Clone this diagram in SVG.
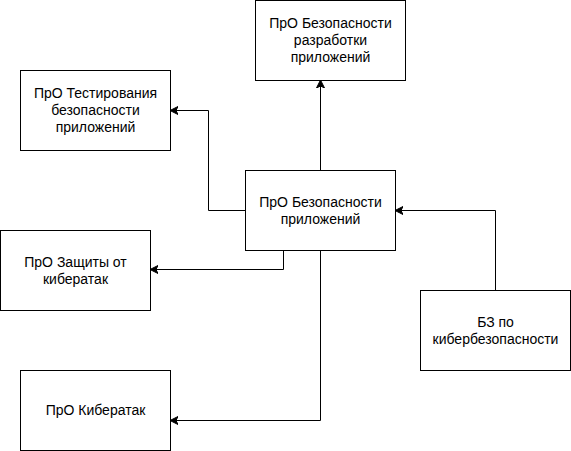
<svg xmlns="http://www.w3.org/2000/svg" width="571" height="451" viewBox="0 0 571 451">
<style>
.box{fill:#fff;stroke:#000;stroke-width:1}
.t{font-family:"Liberation Sans",Arial,sans-serif;font-size:14px;fill:#000;text-anchor:middle}
.c{fill:none;stroke:#000;stroke-width:1}
</style>
<defs>
<marker id="a" markerWidth="10" markerHeight="10" refX="7" refY="4" orient="auto" markerUnits="userSpaceOnUse" viewBox="0 0 10 8">
<path d="M0,0 L8,4 L0,8 L2,4 Z" fill="#000" stroke="#000" stroke-width="1"/>
</marker>
</defs>
<g id="connectors">
<path class="c" d="M320.5,170 V81" marker-end="url(#a)"/>
<path class="c" d="M245,210.5 H208.5 V110.5 H171" marker-end="url(#a)"/>
<path class="c" d="M283.5,250 V269.5 H151" marker-end="url(#a)"/>
<path class="c" d="M495.5,290 V210.5 H396" marker-end="url(#a)"/>
<path class="c" d="M320.5,250 V420.5 H171" marker-end="url(#a)"/>
</g>
<g id="n-dev">
<rect class="box" x="255.5" y="0.5" width="150" height="80"/>
<text class="t" x="330.5" y="28">ПрО Безопасности</text>
<text class="t" x="330.5" y="45">разработки</text>
<text class="t" x="330.5" y="62">приложений</text>
</g>
<g id="n-test">
<rect class="box" x="20.5" y="70.5" width="150" height="80"/>
<text class="t" x="95.5" y="98">ПрО Тестирования</text>
<text class="t" x="95.5" y="115">безопасности</text>
<text class="t" x="95.5" y="132">приложений</text>
</g>
<g id="n-app">
<rect class="box" x="245.5" y="170.5" width="150" height="80"/>
<text class="t" x="320.5" y="206.7">ПрО Безопасности</text>
<text class="t" x="320.5" y="223.5">приложений</text>
</g>
<g id="n-def">
<rect class="box" x="0.5" y="230.5" width="150" height="80"/>
<text class="t" x="75.5" y="266.7">ПрО Защиты от</text>
<text class="t" x="75.5" y="283.5">кибератак</text>
</g>
<g id="n-kb">
<rect class="box" x="420.5" y="290.5" width="150" height="80"/>
<text class="t" x="495.5" y="326.7">БЗ по</text>
<text class="t" x="495.5" y="343.5">кибербезопасности</text>
</g>
<g id="n-att">
<rect class="box" x="20.5" y="370.5" width="150" height="80"/>
<text class="t" x="95.5" y="415">ПрО Кибератак</text>
</g>
</svg>
